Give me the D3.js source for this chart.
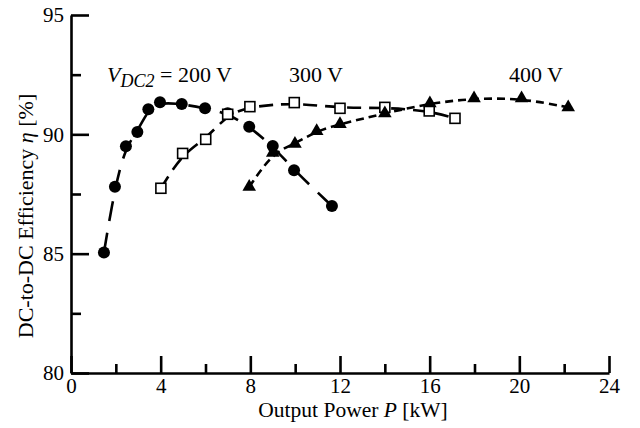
<!DOCTYPE html>
<html>
<head>
<meta charset="utf-8">
<script src="https://cdn.jsdelivr.net/npm/d3@7"></script>
<style>
  body { margin: 0; background: #fff; }
  svg text { font-family: "Liberation Serif", "Times New Roman", serif; fill: #000; }
</style>
</head>
<body>
<div id="chart"></div>
<script>
const w = 640;
const h = 428;

// measured points, P [kW] and efficiency [%]
const p200 = [1.47, 1.96, 2.45, 2.96, 3.45, 3.97, 4.94, 5.98, 6.99, 7.95, 9.0, 9.95, 11.64];
const eta200 = [85.05, 87.8, 89.5, 90.1, 91.05, 91.34, 91.27, 91.09, 90.88, 90.32, 89.51, 88.5, 87.0];

const p300 = [4.01, 4.98, 6.01, 6.99, 7.98, 9.96, 12.0, 14.0, 15.98, 17.13];
const eta300 = [87.74, 89.2, 89.79, 90.84, 91.16, 91.33, 91.09, 91.13, 90.98, 90.67];

const p400 = [7.95, 9.0, 9.99, 10.96, 12.0, 14.0, 16.01, 17.98, 20.1, 22.18];
const eta400 = [87.8, 89.23, 89.6, 90.14, 90.43, 90.88, 91.3, 91.51, 91.51, 91.13];

const xMajor = [0, 4, 8, 12, 16, 20, 24];
const xMinor = [2, 6, 10, 14, 18, 22];
const yMajor = [80, 85, 90, 95];
const yMinor = [82.5, 87.5, 92.5];

const margin = { left: 71, right: 31, top: 15, bottom: 55 };

const x = d3.scaleLinear().domain([0, 24]).range([margin.left, w - margin.right]);
const y = d3.scaleLinear().domain([80, 95]).range([h - margin.bottom, margin.top]);

const svg = d3.select('#chart').append('svg')
  .attr('width', w)
  .attr('height', h);

const series = [
  { p: p200, eta: eta200, marker: 'circle', dash: '20,12' },
  { p: p300, eta: eta300, marker: 'square', dash: '14,8' },
  { p: p400, eta: eta400, marker: 'triangle', dash: '8,5' }
];

const line = d3.line()
  .x(d => x(d[0]))
  .y(d => y(d[1]))
  .curve(d3.curveBasis);

series.forEach(s => {
  const pts = s.p.map((v, i) => [v, s.eta[i]]);
  svg.append('path')
    .datum(pts)
    .attr('d', line)
    .attr('fill', 'none')
    .attr('stroke', '#000')
    .attr('stroke-width', 2.6)
    .attr('stroke-dasharray', s.dash);
});

series.forEach(s => {
  const pts = s.p.map((v, i) => [v, s.eta[i]]);
  const g = svg.append('g');
  if (s.marker === 'circle') {
    g.selectAll('circle').data(pts).enter().append('circle')
      .attr('cx', d => x(d[0]))
      .attr('cy', d => y(d[1]))
      .attr('r', 6)
      .attr('fill', '#000');
  } else if (s.marker === 'square') {
    g.selectAll('rect').data(pts).enter().append('rect')
      .attr('x', d => x(d[0]) - 5)
      .attr('y', d => y(d[1]) - 5)
      .attr('width', 10)
      .attr('height', 10)
      .attr('fill', '#fff')
      .attr('stroke', '#000')
      .attr('stroke-width', 1.6);
  } else {
    g.selectAll('path').data(pts).enter().append('path')
      .attr('d', d3.symbol(d3.symbolTriangle, 80))
      .attr('transform', d => `translate(${x(d[0])},${y(d[1])})`)
      .attr('fill', '#000');
  }
});

// axes
svg.append('g')
  .attr('transform', `translate(0,${y(80)})`)
  .call(d3.axisBottom(x).tickValues(xMajor).tickSize(-17).tickPadding(5).tickSizeOuter(0));
svg.append('g')
  .attr('transform', `translate(0,${y(80)})`)
  .call(d3.axisBottom(x).tickValues(xMinor).tickSize(-9).tickFormat('').tickSizeOuter(0))
  .select('.domain').remove();

svg.append('g')
  .attr('transform', `translate(${x(0)},0)`)
  .call(d3.axisLeft(y).tickValues(yMajor).tickSize(-18).tickPadding(7).tickSizeOuter(0));
svg.append('g')
  .attr('transform', `translate(${x(0)},0)`)
  .call(d3.axisLeft(y).tickValues(yMinor).tickSize(-10).tickFormat('').tickSizeOuter(0))
  .select('.domain').remove();

svg.selectAll('.domain, .tick line')
  .attr('stroke', '#000')
  .attr('stroke-width', 2.6);
svg.selectAll('.tick text')
  .style('font-family', '"Liberation Serif", serif')
  .style('font-size', '21px')
  .attr('fill', '#000');

// axis titles
const xt = svg.append('text')
  .attr('x', 353)
  .attr('y', 417)
  .attr('text-anchor', 'middle')
  .style('font-size', '21.5px');
xt.append('tspan').text('Output Power ');
xt.append('tspan').style('font-style', 'italic').text('P');
xt.append('tspan').text(' [kW]');

const yt = svg.append('text')
  .attr('transform', 'translate(33,216) rotate(-90)')
  .attr('text-anchor', 'middle')
  .style('font-size', '22px');
yt.append('tspan').text('DC-to-DC Efficiency ');
yt.append('tspan').style('font-style', 'italic').text('η');
yt.append('tspan').text(' [%]');

// series labels
const l1 = svg.append('text')
  .attr('x', 107)
  .attr('y', 82)
  .style('font-size', '22px');
l1.append('tspan').style('font-style', 'italic').text('V');
l1.append('tspan').style('font-style', 'italic').style('font-size', '18px').attr('dy', 5).text('DC2');
l1.append('tspan').attr('dy', -5).text(' = 200 V');

svg.append('text')
  .attr('x', 289)
  .attr('y', 82)
  .style('font-size', '22px')
  .text('300 V');

svg.append('text')
  .attr('x', 509)
  .attr('y', 82)
  .style('font-size', '22px')
  .text('400 V');
</script>
</body>
</html>
